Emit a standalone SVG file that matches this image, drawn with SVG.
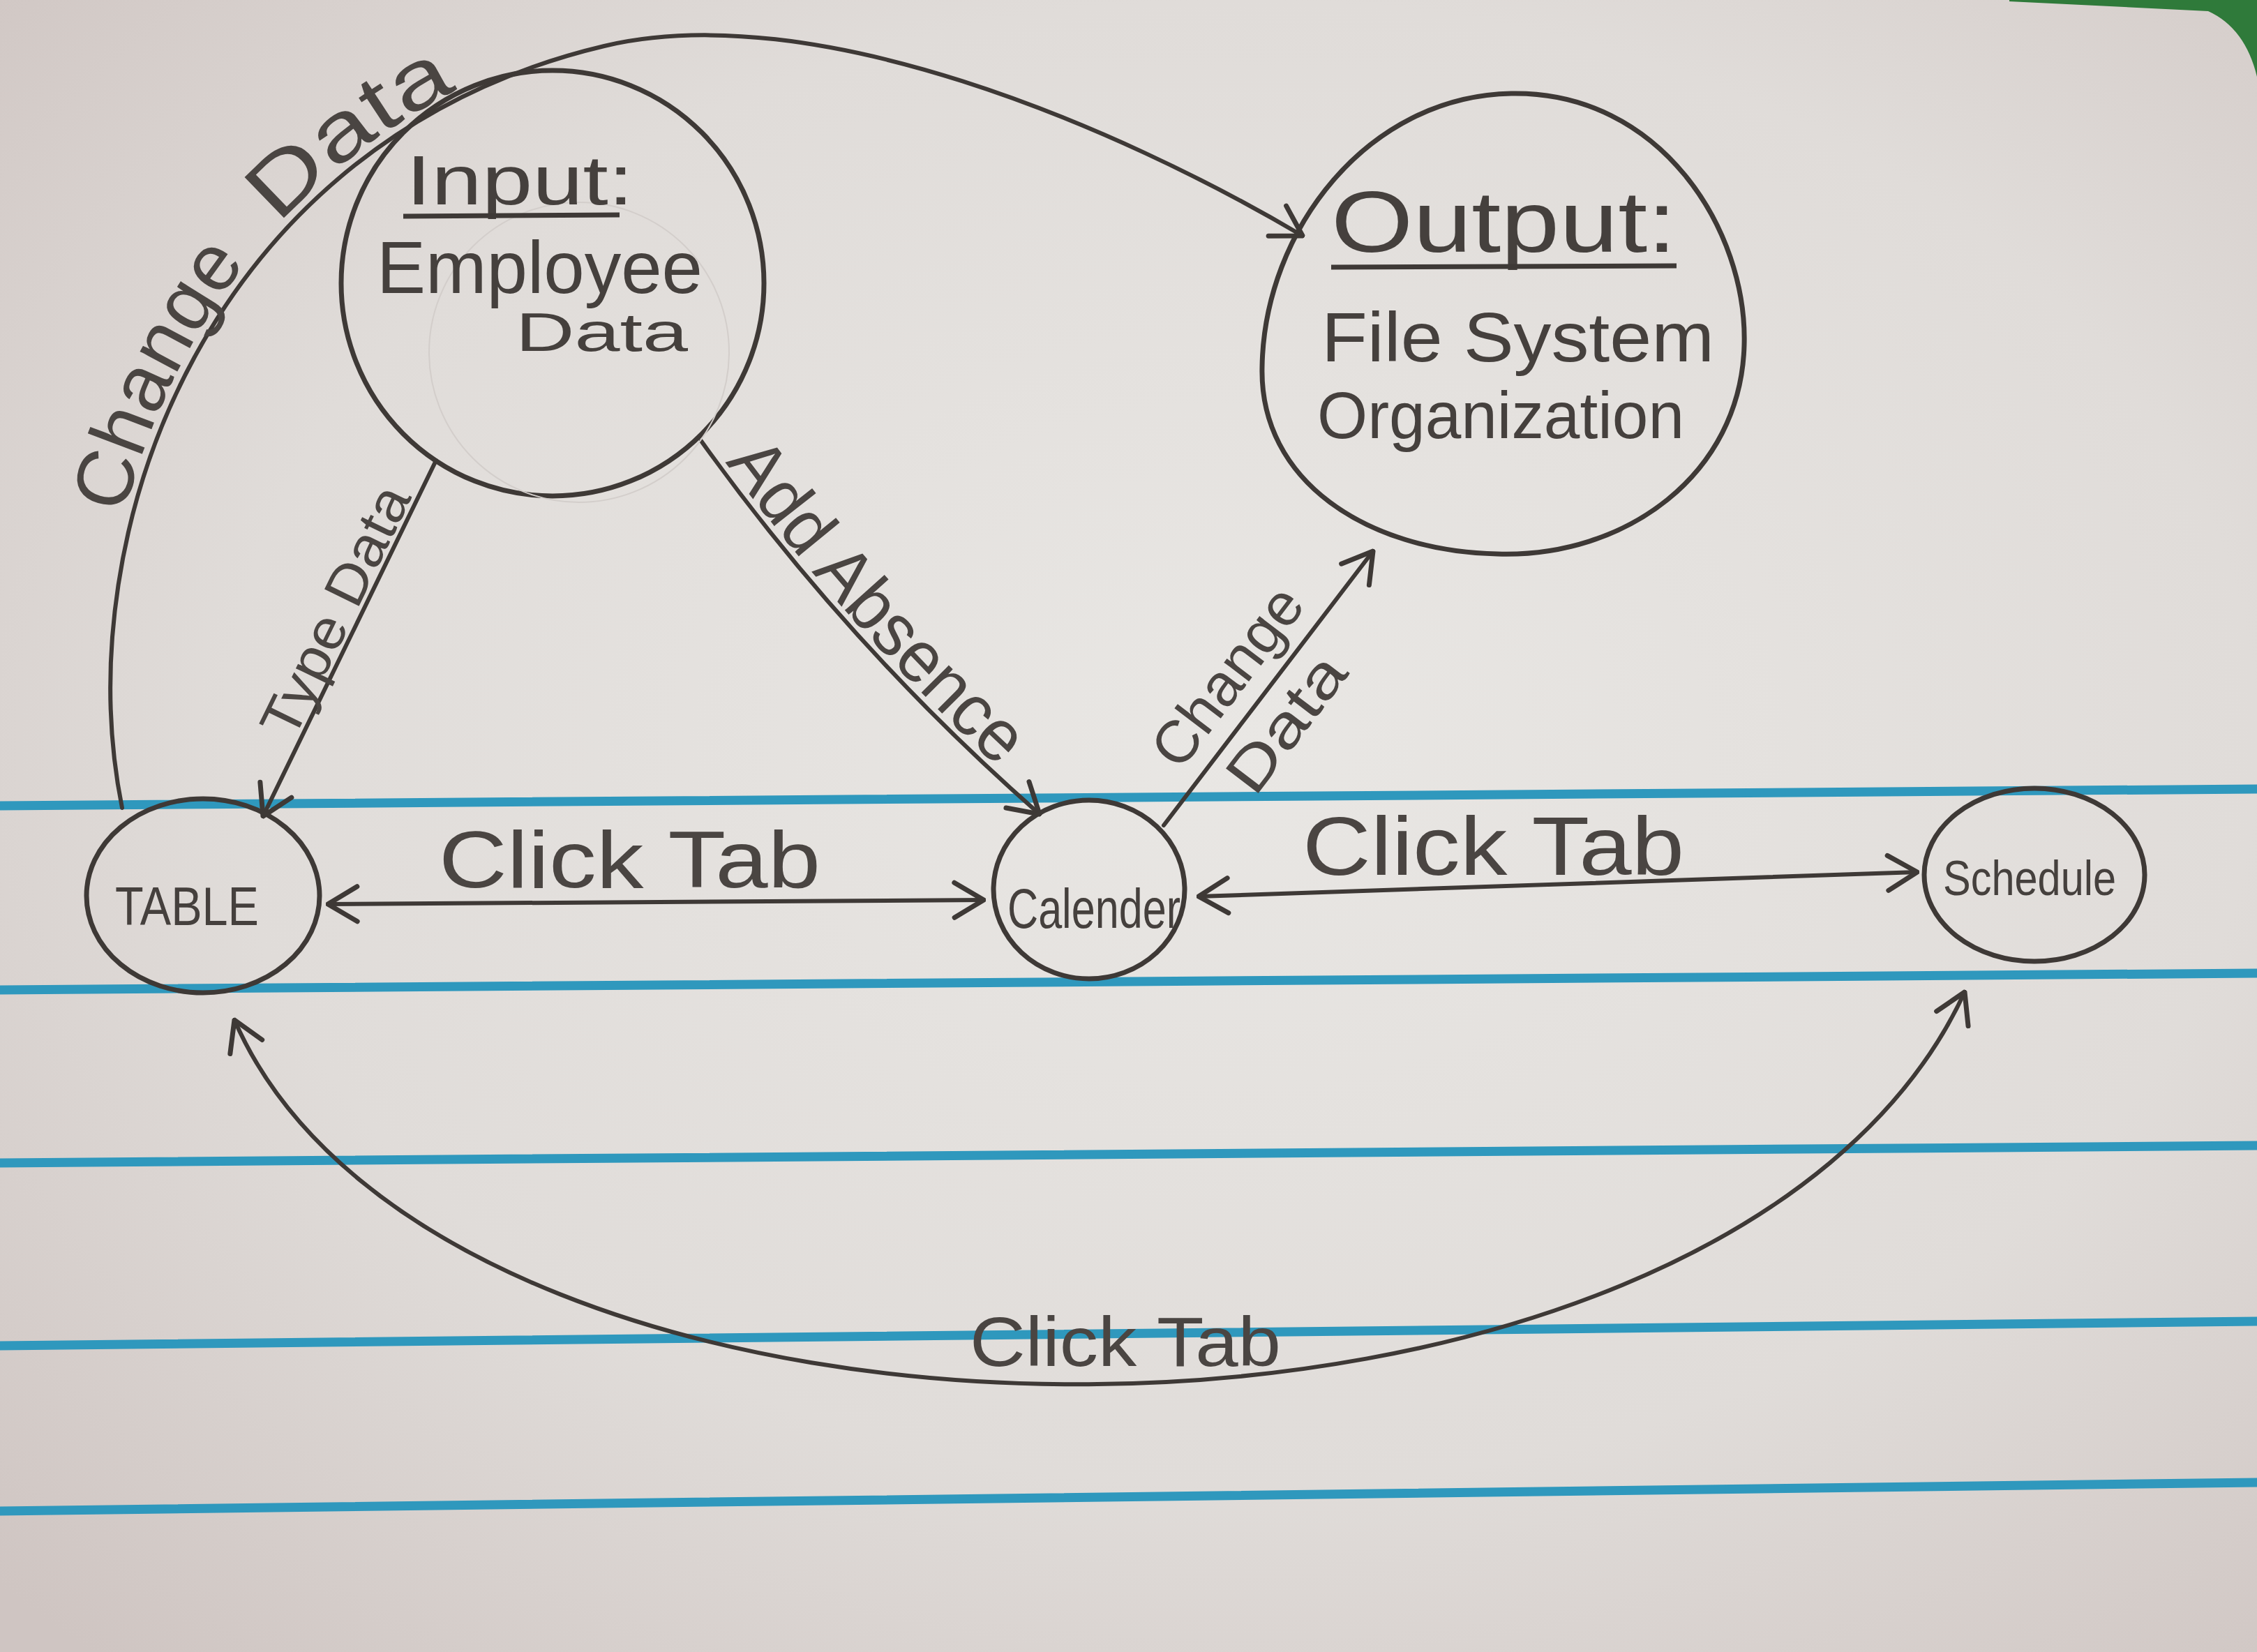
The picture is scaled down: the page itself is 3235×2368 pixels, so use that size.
<svg xmlns="http://www.w3.org/2000/svg" width="3235" height="2368" viewBox="0 0 3235 2368">
<style>
.paper{fill:url(#bg)}
.rule{stroke:#2f98bd;stroke-width:13;fill:none;stroke-linecap:round}
.node{fill:none;stroke:#3e3936;stroke-width:7}
.ghost{fill:none;stroke:#d3cecb;stroke-width:2}
.edge{fill:none;stroke:#3e3936;stroke-width:6;stroke-linecap:round}
.t{font-family:"Liberation Sans","DejaVu Sans",sans-serif;fill:#45403d}
.lbl{font-family:"Liberation Sans","DejaVu Sans",sans-serif;fill:#4a4542}
.ul{stroke:#3e3936;stroke-width:7;fill:none}
</style>
<defs>
<radialGradient id="bg" cx="0.55" cy="0.45" r="0.75">
<stop offset="0" stop-color="#e9e7e4"/>
<stop offset="0.6" stop-color="#e0dcd9"/>
<stop offset="1" stop-color="#cfc5c2"/>
</radialGradient>
<marker id="arr" viewBox="0 0 50 60" refX="47" refY="30" markerWidth="50" markerHeight="60" markerUnits="userSpaceOnUse" orient="auto-start-reverse">
<path d="M5,5 L47,30 L5,55" fill="none" stroke="#3e3936" stroke-width="7" stroke-linecap="round" stroke-linejoin="round"/>
</marker>
<path id="pTop" d="M 175 1158 C 95 760, 300 200, 866 66 C 1166 -5, 1600 180, 1867 338"/>
<path id="pType" d="M 377 1170 L 625 660"/>
<path id="pAdd" d="M 1005 632 Q 1215 925 1490 1167"/>
<path id="pCD" d="M 1668 1183 L 1968 790"/>
</defs>
<rect class="paper" x="0" y="0" width="3235" height="2368"/>
<path d="M 2880 0 L 3235 0 L 3235 110 Q 3218 40 3165 16 L 2880 2 Z" fill="#2f7a3a"/>
<g id="rules">
<line class="rule" x1="0" y1="1155" x2="3235" y2="1131"/>
<line class="rule" x1="0" y1="1419" x2="3235" y2="1395"/>
<line class="rule" x1="0" y1="1667" x2="3235" y2="1642"/>
<line class="rule" x1="0" y1="1929" x2="3235" y2="1894"/>
<line class="rule" x1="0" y1="2166" x2="3235" y2="2125"/>
</g>
<g id="connectors">
<path class="edge" d="M 175 1158 C 95 760, 300 200, 866 66 C 1166 -5, 1600 180, 1867 338" marker-end="url(#arr)"/>
<path class="edge" d="M 625 660 L 377 1170" marker-end="url(#arr)"/>
<path class="edge" d="M 1005 632 Q 1215 925 1490 1167" marker-end="url(#arr)"/>
<path class="edge" d="M 1668 1183 L 1968 790" marker-end="url(#arr)"/>
<path class="edge" d="M 470 1296 L 1410 1290" marker-start="url(#arr)" marker-end="url(#arr)"/>
<path class="edge" d="M 1718 1285 L 2748 1250" marker-start="url(#arr)" marker-end="url(#arr)"/>
<path class="edge" d="M 336 1462 C 640 2160, 2470 2170, 2816 1422" marker-start="url(#arr)" marker-end="url(#arr)"/>
<text class="lbl" font-size="115"><textPath href="#pTop" startOffset="420" textLength="400" lengthAdjust="spacingAndGlyphs"><tspan dy="-12">Change</tspan></textPath></text>
<text class="lbl" font-size="118"><textPath href="#pTop" startOffset="890" textLength="320" lengthAdjust="spacingAndGlyphs"><tspan dy="-12">Data</tspan></textPath></text>
<text class="lbl" font-size="80"><textPath href="#pType" startOffset="115" textLength="390" lengthAdjust="spacingAndGlyphs"><tspan dy="-8">Type Data</tspan></textPath></text>
<text class="lbl" font-size="105"><textPath href="#pAdd" startOffset="45" textLength="590" lengthAdjust="spacingAndGlyphs"><tspan dy="-10">Add Absence</tspan></textPath></text>
<text class="lbl" font-size="85"><textPath href="#pCD" startOffset="75" textLength="300" lengthAdjust="spacingAndGlyphs"><tspan dy="-28">Change</tspan></textPath></text>
<text class="lbl" font-size="85"><textPath href="#pCD" startOffset="110" textLength="225" lengthAdjust="spacingAndGlyphs"><tspan dy="80">Data</tspan></textPath></text>
<text class="lbl" x="629" y="1272" font-size="115" textLength="547" lengthAdjust="spacingAndGlyphs">Click Tab</text>
<text class="lbl" x="1867" y="1254" font-size="118" textLength="547" lengthAdjust="spacingAndGlyphs">Click Tab</text>
<text class="lbl" x="1390" y="1958" font-size="100" textLength="446" lengthAdjust="spacingAndGlyphs">Click Tab</text>
</g>
<g id="input">
<ellipse class="node" cx="792" cy="406" rx="303" ry="305"/>
<circle class="ghost" cx="830" cy="505" r="215"/>
<text class="t" x="582" y="293" font-size="100" textLength="326" lengthAdjust="spacingAndGlyphs">Input:</text>
<line class="ul" x1="578" y1="310" x2="888" y2="308"/>
<text class="t" x="540" y="420" font-size="106" textLength="467" lengthAdjust="spacingAndGlyphs">Employee</text>
<text class="t" x="739" y="503" font-size="78" textLength="247" lengthAdjust="spacingAndGlyphs">Data</text>
</g>
<g id="output">
<path class="node" d="M 2166 134 C 2380 130, 2505 330, 2500 495 C 2495 680, 2330 800, 2146 794 C 1960 790, 1805 690, 1809 526 C 1812 330, 1960 138, 2166 134 Z"/>
<text class="t" x="1908" y="361" font-size="125" textLength="495" lengthAdjust="spacingAndGlyphs">Output:</text>
<line class="ul" x1="1908" y1="383" x2="2403" y2="381"/>
<text class="t" x="1894" y="518" font-size="100" textLength="563" lengthAdjust="spacingAndGlyphs">File System</text>
<text class="t" x="1888" y="628" font-size="95" textLength="526" lengthAdjust="spacingAndGlyphs">Organization</text>
</g>
<g id="table">
<ellipse class="node" cx="291" cy="1284" rx="167" ry="139"/>
<text class="t" x="165" y="1326" font-size="78" textLength="206" lengthAdjust="spacingAndGlyphs">TABLE</text>
</g>
<g id="calender">
<ellipse class="node" cx="1561" cy="1275" rx="137" ry="128"/>
<text class="t" x="1444" y="1330" font-size="80" textLength="248" lengthAdjust="spacingAndGlyphs">Calender</text>
</g>
<g id="schedule">
<ellipse class="node" cx="2916" cy="1254" rx="158" ry="124"/>
<text class="t" x="2785" y="1283" font-size="70" textLength="248" lengthAdjust="spacingAndGlyphs">Schedule</text>
</g>
</svg>
